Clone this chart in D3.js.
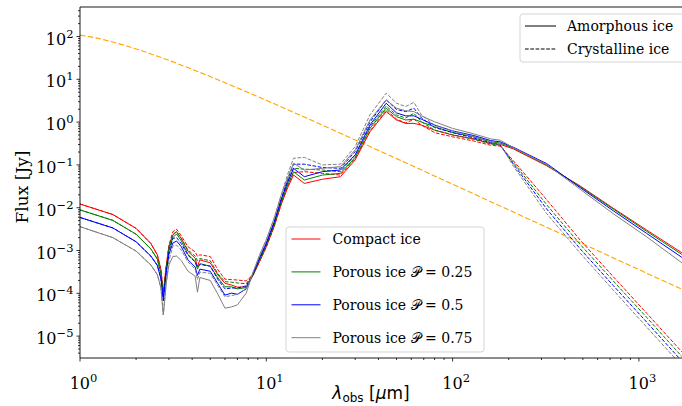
<!DOCTYPE html>
<html>
<head>
<meta charset="utf-8">
<script src="https://cdn.jsdelivr.net/npm/d3@7"></script>
<style>
  body { margin: 0; background: #fff; }
  svg { display: block; }
</style>
</head>
<body>
<svg id="chart" width="682" height="406"></svg>
<script>
// Observed wavelength grid (micron) shared by all modelled spectra
const wavelength = [1, 1.5, 2, 2.4, 2.6, 2.72, 2.8, 2.9, 3.0, 3.15, 3.3, 3.5, 3.8, 4.15, 4.27, 4.4, 5.0, 5.5, 6.0, 6.5, 7.0, 7.8, 8.5, 9.2, 10, 11, 12, 13, 14, 16, 20, 25, 30, 36, 44, 50, 56, 62, 68, 80, 100, 130, 160, 180, 212, 320, 484, 728, 1100, 1700];

// Flux density (Jy), amorphous ice
const compactAmorphous = [1.22e-2, 6.93e-3, 3.29e-3, 1.46e-3, 7.93e-4, 3.52e-4, 9.91e-5, 4.21e-4, 1.22e-3, 2.29e-3, 2.75e-3, 1.91e-3, 9.51e-4, 6.61e-4, 4.21e-4, 6.04e-4, 5.16e-4, 2.68e-4, 1.71e-4, 1.56e-4, 1.39e-4, 1.42e-4, 2.62e-4, 5.52e-4, 1.22e-3, 3.60e-3, 1.17e-2, 2.88e-2, 5.81e-2, 3.69e-2, 4.62e-2, 5.30e-2, 0.131, 0.594, 1.76, 1.12, 0.933, 0.933, 0.853, 0.650, 0.497, 0.405, 0.315, 0.302, 0.236, 0.0953, 0.0322, 9.72e-3, 3.01e-3, 8.87e-4];
const porous25Amorphous = [8.89e-3, 5.06e-3, 2.40e-3, 1.09e-3, 6.32e-4, 2.86e-4, 8.45e-5, 3.67e-4, 1.06e-3, 2.00e-3, 2.45e-3, 1.67e-3, 8.11e-4, 5.52e-4, 3.67e-4, 4.93e-4, 4.31e-4, 2.29e-4, 1.42e-4, 1.42e-4, 1.27e-4, 1.36e-4, 2.74e-4, 6.04e-4, 1.36e-3, 4.04e-3, 1.34e-2, 3.37e-2, 6.95e-2, 4.43e-2, 5.79e-2, 6.35e-2, 0.150, 0.713, 2.11, 1.34, 1.12, 1.17, 1.00, 0.780, 0.569, 0.453, 0.346, 0.323, 0.247, 0.0998, 0.0308, 9.31e-3, 2.81e-3, 8.11e-4];
const porous50Amorphous = [5.92e-3, 3.37e-3, 1.60e-3, 7.41e-4, 4.51e-4, 2.19e-4, 6.75e-5, 2.93e-4, 8.11e-4, 1.49e-3, 1.67e-3, 1.22e-3, 6.04e-4, 4.11e-4, 2.62e-4, 3.67e-4, 3.28e-4, 1.67e-4, 9.06e-5, 1.01e-4, 9.48e-5, 1.27e-4, 2.86e-4, 6.61e-4, 1.49e-3, 4.52e-3, 1.53e-2, 3.95e-2, 8.32e-2, 5.30e-2, 6.95e-2, 7.60e-2, 0.171, 0.853, 2.76, 1.64, 1.40, 1.40, 1.17, 0.853, 0.622, 0.485, 0.370, 0.346, 0.258, 0.107, 0.0294, 8.49e-3, 2.51e-3, 6.92e-4];
const porous75Amorphous = [3.61e-3, 2.00e-3, 9.70e-4, 4.60e-4, 2.74e-4, 1.33e-4, 3.13e-5, 1.67e-4, 4.60e-4, 7.24e-4, 7.41e-4, 5.78e-4, 3.28e-4, 2.51e-4, 1.06e-4, 2.34e-4, 2.00e-4, 9.48e-5, 4.50e-5, 4.81e-5, 5.38e-5, 1.01e-4, 3.14e-4, 7.74e-4, 1.79e-3, 5.53e-3, 1.92e-2, 4.95e-2, 0.109, 0.0760, 0.0832, 0.0912, 0.225, 1.12, 3.31, 2.11, 1.84, 1.76, 1.40, 1.02, 0.713, 0.531, 0.405, 0.378, 0.252, 0.102, 0.0269, 7.26e-3, 2.09e-3, 5.16e-4];

// Flux density (Jy), crystalline ice
const compactCrystalline = [1.22e-2, 6.93e-3, 3.29e-3, 1.46e-3, 7.93e-4, 3.52e-4, 9.91e-5, 4.21e-4, 1.33e-3, 2.75e-3, 3.15e-3, 2.19e-3, 1.22e-3, 9.29e-4, 7.24e-4, 7.93e-4, 7.24e-4, 3.52e-4, 2.14e-4, 2.09e-4, 2.04e-4, 1.95e-4, 2.74e-4, 5.52e-4, 1.19e-3, 3.52e-3, 1.17e-2, 3.15e-2, 6.64e-2, 6.95e-2, 6.35e-2, 5.79e-2, 0.143, 0.622, 1.93, 1.17, 0.956, 1.17, 0.853, 0.569, 0.453, 0.361, 0.288, 0.276, 0.125, 1.53e-2, 1.75e-3, 2.45e-4, 3.43e-5, 4.29e-6];
const porous25Crystalline = [8.89e-3, 5.06e-3, 2.40e-3, 1.09e-3, 6.32e-4, 2.86e-4, 8.45e-5, 3.67e-4, 1.16e-3, 2.40e-3, 2.75e-3, 1.91e-3, 1.02e-3, 7.41e-4, 5.78e-4, 6.47e-4, 5.78e-4, 2.86e-4, 1.87e-4, 1.82e-4, 1.75e-4, 1.67e-4, 2.81e-4, 6.04e-4, 1.33e-3, 3.94e-3, 1.34e-2, 3.78e-2, 8.32e-2, 7.96e-2, 7.60e-2, 6.95e-2, 0.171, 0.780, 2.36, 1.47, 1.25, 1.61, 1.02, 0.650, 0.508, 0.396, 0.309, 0.288, 0.114, 1.17e-2, 1.39e-3, 1.95e-4, 2.74e-5, 3.34e-6];
const porous50Crystalline = [5.92e-3, 3.37e-3, 1.60e-3, 7.41e-4, 4.51e-4, 2.19e-4, 6.75e-5, 2.93e-4, 9.08e-4, 1.91e-3, 2.00e-3, 1.43e-3, 7.74e-4, 5.40e-4, 4.11e-4, 4.71e-4, 4.31e-4, 2.09e-4, 1.27e-4, 1.33e-4, 1.33e-4, 1.49e-4, 2.93e-4, 6.61e-4, 1.46e-3, 4.42e-3, 1.53e-2, 4.53e-2, 0.104, 0.104, 8.71e-2, 8.32e-2, 0.206, 1.00, 3.31, 1.97, 1.76, 2.11, 1.25, 0.745, 0.569, 0.424, 0.330, 0.295, 0.104, 9.31e-3, 1.09e-3, 1.52e-4, 2.13e-5, 2.61e-6];
const porous75Crystalline = [3.61e-3, 2.00e-3, 9.70e-4, 4.60e-4, 2.74e-4, 1.33e-4, 3.13e-5, 1.67e-4, 5.78e-4, 1.27e-3, 1.33e-3, 1.02e-3, 5.40e-4, 3.67e-4, 2.09e-4, 3.14e-4, 2.93e-4, 1.49e-4, 8.28e-5, 8.85e-5, 9.48e-5, 1.27e-4, 3.14e-4, 7.74e-4, 1.79e-3, 5.53e-3, 1.92e-2, 5.93e-2, 0.143, 0.150, 0.0998, 0.104, 0.270, 1.47, 4.75, 2.76, 2.31, 2.89, 1.47, 0.853, 0.622, 0.453, 0.346, 0.302, 0.0933, 7.26e-3, 8.67e-4, 1.19e-4, 1.63e-5, 2.03e-6];

// Stellar photosphere (orange dashed)
const starWavelength = [1, 1.2, 1.5, 2, 3, 4, 5, 7, 10, 15, 20, 30, 50, 70, 100, 200, 500, 1000, 1700];
const starFlux = [108, 93.7, 74.2, 51.2, 27.7, 17.1, 11.57, 6.28, 3.22, 1.484, 0.849, 0.384, 0.1402, 0.0720, 0.0354, 0.0089, 1.43e-3, 3.58e-4, 1.24e-4];

const iceLabels = ["Compact ice", "Porous ice \u{1D4AB} = 0.25", "Porous ice \u{1D4AB} = 0.5", "Porous ice \u{1D4AB} = 0.75"];
const phaseLabels = ["Amorphous ice", "Crystalline ice"];
const xTickValues = [1, 10, 100, 1000];
const yTickExponents = [-5, -4, -3, -2, -1, 0, 1, 2];

(function draw() {
  const amorphousSeries = [compactAmorphous, porous25Amorphous, porous50Amorphous, porous75Amorphous];
  const crystallineSeries = [compactCrystalline, porous25Crystalline, porous50Crystalline, porous75Crystalline];
  const iceColors = ["#ff0000", "#008000", "#0000ff", "#808080"];

  const svg = d3.select("#chart");
  const plotLeft = 80, plotRight = 682, plotTop = 7, plotBottom = 358;
  const serif = "'DejaVu Serif', serif";
  const sans = "'DejaVu Sans', sans-serif";

  const x = d3.scaleLog().domain([1, 1703]).range([plotLeft, plotRight]);
  const y = d3.scaleLog().domain([3.08e-6, 489]).range([plotBottom, plotTop]);

  svg.append("defs").append("clipPath").attr("id", "plotArea")
    .append("rect").attr("x", plotLeft).attr("y", plotTop)
    .attr("width", plotRight - plotLeft).attr("height", plotBottom - plotTop);

  const plot = svg.append("g").attr("clip-path", "url(#plotArea)");
  const line = d3.line().x(d => x(d[0])).y(d => y(d[1]));

  // stellar continuum
  plot.append("path")
    .datum(d3.zip(starWavelength, starFlux))
    .attr("d", d3.line().x(d => x(d[0])).y(d => y(d[1])).curve(d3.curveMonotoneX))
    .attr("fill", "none").attr("stroke", "#ffa500").attr("stroke-width", 1.1)
    .attr("stroke-dasharray", "5.5,2.4");

  // ice spectra
  iceColors.forEach((c, i) => {
    plot.append("path").datum(d3.zip(wavelength, amorphousSeries[i]))
      .attr("d", line).attr("fill", "none").attr("stroke", c).attr("stroke-width", 1);
    plot.append("path").datum(d3.zip(wavelength, crystallineSeries[i]))
      .attr("d", line).attr("fill", "none").attr("stroke", c).attr("stroke-width", 1)
      .attr("stroke-dasharray", "3.7,1.6");
  });

  // spines
  const axisG = svg.append("g").attr("stroke", "#000").attr("stroke-width", 0.9);
  axisG.append("line").attr("x1", plotLeft).attr("x2", plotRight + 2).attr("y1", plotTop).attr("y2", plotTop);
  axisG.append("line").attr("x1", plotLeft).attr("x2", plotRight + 2).attr("y1", plotBottom).attr("y2", plotBottom);
  axisG.append("line").attr("x1", plotLeft).attr("x2", plotLeft).attr("y1", plotTop).attr("y2", plotBottom);

  // ticks
  const xMinor = [];
  for (let d = 1; d <= 1000; d *= 10) for (let m = 2; m <= 9; m++) if (d * m <= 1703) xMinor.push(d * m);
  const yMinor = [];
  for (let e = -6; e <= 2; e++) for (let m = 2; m <= 9; m++) {
    const v = m * Math.pow(10, e);
    if (v >= 3.08e-6 && v <= 489) yMinor.push(v);
  }

  const tickG = svg.append("g").attr("stroke", "#000").attr("stroke-width", 0.8);
  xTickValues.forEach(v => tickG.append("line").attr("x1", x(v)).attr("x2", x(v)).attr("y1", plotBottom).attr("y2", plotBottom + 3.5));
  xMinor.forEach(v => tickG.append("line").attr("x1", x(v)).attr("x2", x(v)).attr("y1", plotBottom).attr("y2", plotBottom + 2));
  yTickExponents.forEach(e => tickG.append("line").attr("x1", plotLeft - 3.5).attr("x2", plotLeft)
    .attr("y1", y(Math.pow(10, e))).attr("y2", y(Math.pow(10, e))));
  yMinor.forEach(v => tickG.append("line").attr("x1", plotLeft - 2).attr("x2", plotLeft).attr("y1", y(v)).attr("y2", y(v)));

  function powerLabel(g, exponent, px, py, anchor) {
    const t = g.append("text").attr("x", px).attr("y", py).attr("text-anchor", anchor)
      .attr("font-family", serif).attr("font-size", 16).attr("fill", "#000");
    t.append("tspan").text("10");
    t.append("tspan").attr("dy", -7).attr("font-size", 11.5)
      .text(exponent < 0 ? "\u2212" + Math.abs(exponent) : String(exponent));
  }

  const labelG = svg.append("g");
  xTickValues.forEach(v => powerLabel(labelG, Math.round(Math.log10(v)), x(v) + 3.5, 389, "middle"));
  yTickExponents.forEach(e => powerLabel(labelG, e, 73.5, y(Math.pow(10, e)) + 8, "end"));

  // axis titles
  const xt = svg.append("text").attr("x", 371).attr("y", 399).attr("text-anchor", "middle")
    .attr("font-family", sans).attr("font-size", 17).attr("fill", "#000");
  xt.append("tspan").attr("font-style", "italic").text("\u03BB");
  xt.append("tspan").attr("font-size", 12).attr("dy", 3).text("obs");
  xt.append("tspan").attr("dy", -3).text(" [");
  xt.append("tspan").attr("font-style", "italic").text("\u03BC");
  xt.append("tspan").text("m]");

  svg.append("text").attr("transform", "translate(28,187) rotate(-90)")
    .attr("text-anchor", "middle").attr("font-family", serif).attr("font-size", 17).attr("fill", "#000")
    .text("Flux [Jy]");

  // phase legend
  const lg1 = svg.append("g");
  lg1.append("rect").attr("x", 520).attr("y", 14).attr("width", 200).attr("height", 48).attr("rx", 3)
    .attr("fill", "#fff").attr("fill-opacity", 0.8).attr("stroke", "#d5d5d5").attr("stroke-width", 1);
  phaseLabels.forEach((lab, i) => {
    const cy = 26 + i * 23;
    lg1.append("line").attr("x1", 525).attr("x2", 556).attr("y1", cy).attr("y2", cy)
      .attr("stroke", "#000").attr("stroke-width", 1).attr("stroke-dasharray", i ? "3.7,1.6" : null);
    lg1.append("text").attr("x", 567).attr("y", cy + 5).attr("font-family", serif).attr("font-size", 14)
      .attr("fill", "#000").text(lab);
  });

  // porosity legend
  const lg2 = svg.append("g");
  lg2.append("rect").attr("x", 286).attr("y", 227).attr("width", 198).attr("height", 125).attr("rx", 3)
    .attr("fill", "#fff").attr("fill-opacity", 0.8).attr("stroke", "#d5d5d5").attr("stroke-width", 1);
  iceLabels.forEach((lab, i) => {
    const cy = 239 + i * 32.9;
    lg2.append("line").attr("x1", 291.5).attr("x2", 320.5).attr("y1", cy).attr("y2", cy)
      .attr("stroke", iceColors[i]).attr("stroke-width", 1);
    lg2.append("text").attr("x", 332.5).attr("y", cy + 5).attr("font-family", serif).attr("font-size", 14)
      .attr("fill", "#000").text(lab);
  });
})();
</script>
</body>
</html>
